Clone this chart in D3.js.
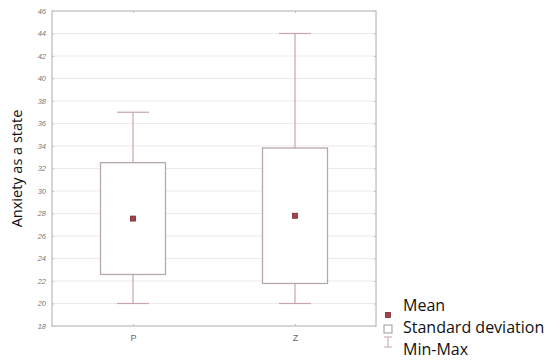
<!DOCTYPE html>
<html>
<head>
<meta charset="utf-8">
<script src="https://cdn.jsdelivr.net/npm/d3@7"></script>
<style>
  body { margin: 0; background: #fff; }
  svg { display: block; font-family: "Open Sans", sans-serif; }
</style>
</head>
<body>
<div id="chart"></div>
<script>
// data
var groups = ['P', 'Z']
var means = [27.55, 27.8]
var sds = [4.97, 6.02]
var mins = [20, 20]
var maxs = [37, 44]
var yTicks = [18, 20, 22, 24, 26, 28, 30, 32, 34, 36, 38, 40, 42, 44, 46]
var legendLabels = ['Mean', 'Standard deviation', 'Min-Max']

var width = 550, height = 362
var m = {left: 52, right: 174, top: 11, bottom: 36}

var svg = d3.select('#chart').append('svg')
    .attr('width', width)
    .attr('height', height)

var x = d3.scalePoint().domain(groups).range([m.left, width - m.right]).padding(0.5)
var y = d3.scaleLinear().domain([18, 46]).range([height - m.bottom, m.top])

var plotW = width - m.right - m.left
var boxW = 65, capW = 32
var lineCol = '#c8a6ad', boxCol = '#b6a8aa'

// grid
svg.append('g').selectAll('line').data(yTicks.slice(1, -1)).enter().append('line')
    .attr('x1', m.left).attr('x2', width - m.right)
    .attr('y1', d => y(d)).attr('y2', d => y(d))
    .attr('stroke', '#efe9e9').attr('stroke-width', 1.2)

// y axis
var yAxis = svg.append('g').attr('transform', 'translate(' + m.left + ',0)')
    .call(d3.axisLeft(y).tickValues(yTicks).tickSize(-2).tickPadding(6))
yAxis.select('.domain').remove()
yAxis.selectAll('line').attr('stroke', '#bbb')
yAxis.selectAll('text').attr('fill', '#777').attr('font-size', 7.5).attr('font-style', 'italic')

// right ticks
svg.append('g').attr('transform', 'translate(' + (width - m.right) + ',0)')
    .call(d3.axisRight(y).tickValues(yTicks).tickSize(-2).tickFormat(''))
    .call(g => g.select('.domain').remove())
    .selectAll('line').attr('stroke', '#bbb')

// x axis
var xAxis = svg.append('g').attr('transform', 'translate(0,' + (height - m.bottom) + ')')
    .call(d3.axisBottom(x).tickSize(-2).tickPadding(9))
xAxis.select('.domain').remove()
xAxis.selectAll('line').attr('stroke', '#bbb')
xAxis.selectAll('text').attr('fill', '#666').attr('font-size', 9)

svg.append('g').attr('transform', 'translate(0,' + m.top + ')')
    .call(d3.axisTop(x).tickSize(-2).tickFormat(''))
    .call(g => g.select('.domain').remove())
    .selectAll('line').attr('stroke', '#bbb')

// frame
svg.append('rect')
    .attr('x', m.left).attr('y', m.top)
    .attr('width', plotW).attr('height', height - m.top - m.bottom)
    .attr('fill', 'none').attr('stroke', '#c8c8c8').attr('stroke-width', 1.5)

// boxes
var g = svg.append('g').selectAll('g').data(groups).enter().append('g')

g.append('line')
    .attr('x1', d => x(d)).attr('x2', d => x(d))
    .attr('y1', (d, i) => y(maxs[i])).attr('y2', (d, i) => y(mins[i]))
    .attr('stroke', lineCol).attr('stroke-width', 1.2)
g.append('line')
    .attr('x1', d => x(d) - capW / 2).attr('x2', d => x(d) + capW / 2)
    .attr('y1', (d, i) => y(maxs[i])).attr('y2', (d, i) => y(maxs[i]))
    .attr('stroke', lineCol).attr('stroke-width', 1.2)
g.append('line')
    .attr('x1', d => x(d) - capW / 2).attr('x2', d => x(d) + capW / 2)
    .attr('y1', (d, i) => y(mins[i])).attr('y2', (d, i) => y(mins[i]))
    .attr('stroke', lineCol).attr('stroke-width', 1.2)
g.append('rect')
    .attr('x', d => x(d) - boxW / 2).attr('width', boxW)
    .attr('y', (d, i) => y(means[i] + sds[i]))
    .attr('height', (d, i) => y(means[i] - sds[i]) - y(means[i] + sds[i]))
    .attr('fill', '#fff').attr('stroke', boxCol).attr('stroke-width', 1.3)
g.append('rect')
    .attr('x', d => x(d) - 2.5).attr('width', 5)
    .attr('y', (d, i) => y(means[i]) - 2.5).attr('height', 5)
    .attr('fill', '#a8404c').attr('stroke', '#7a2a35').attr('stroke-width', 0.8)

// y title
svg.append('text')
    .attr('transform', 'translate(22,' + (m.top + (height - m.top - m.bottom) / 2) + ') rotate(-90)')
    .attr('text-anchor', 'middle')
    .attr('font-size', 14.5)
    .attr('fill', '#111')
    .text('Anxiety as a state')

// legend
var lg = svg.append('g').attr('transform', 'translate(388,315)')
lg.append('rect').attr('x', -2.5).attr('y', -2.5).attr('width', 5).attr('height', 5)
    .attr('fill', '#a8404c').attr('stroke', '#7a2a35').attr('stroke-width', 0.8)
lg.append('rect').attr('x', -4).attr('y', 10).attr('width', 8).attr('height', 8)
    .attr('fill', '#fff').attr('stroke', '#999')
lg.append('line').attr('x1', 0).attr('x2', 0).attr('y1', 22).attr('y2', 32).attr('stroke', lineCol)
lg.append('line').attr('x1', -4).attr('x2', 4).attr('y1', 22).attr('y2', 22).attr('stroke', lineCol)
lg.append('line').attr('x1', -4).attr('x2', 4).attr('y1', 32).attr('y2', 32).attr('stroke', lineCol)
lg.selectAll('text').data(legendLabels).enter().append('text')
    .attr('x', 15).attr('y', (d, i) => -4 + i * 22)
    .attr('font-size', 16).attr('fill', '#111')
    .text(d => d)
</script>
</body>
</html>
